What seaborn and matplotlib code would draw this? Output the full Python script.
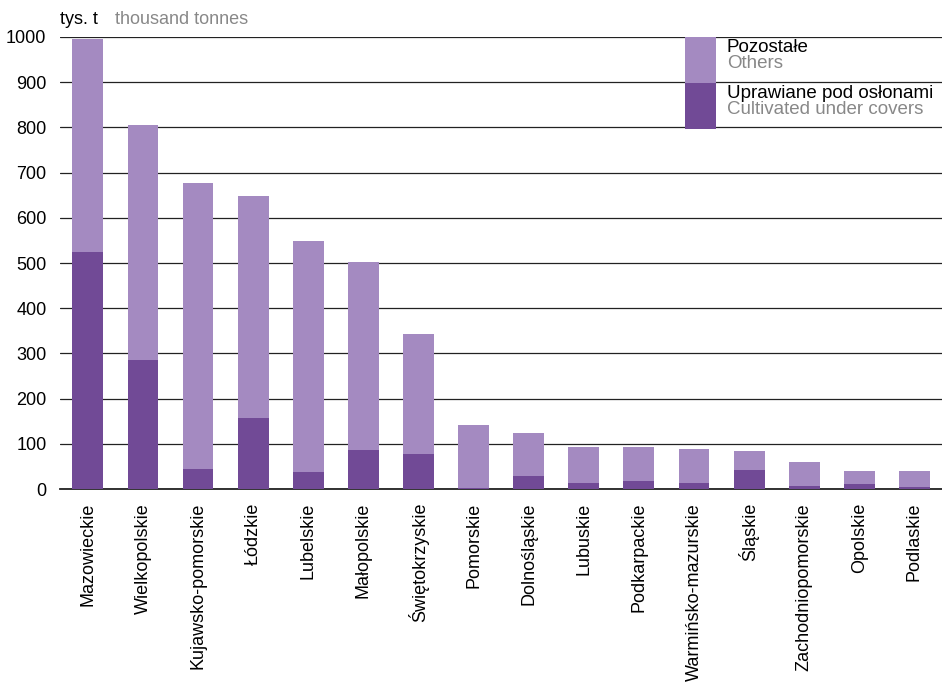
import pandas as pd
import seaborn as sns
import matplotlib.pyplot as plt
from matplotlib.patches import Rectangle

# --- data (thousand tonnes) ---
regions = ['Mazowieckie', 'Wielkopolskie', 'Kujawsko-pomorskie', 'Łódzkie', 'Lubelskie',
           'Małopolskie', 'Świętokrzyskie', 'Pomorskie', 'Dolnośląskie', 'Lubuskie',
           'Podkarpackie', 'Warmińsko-mazurskie', 'Śląskie', 'Zachodniopomorskie',
           'Opolskie', 'Podlaskie']
total = [995, 805, 677, 648, 549, 502, 343, 142, 124, 93, 93, 88, 84, 60, 40, 40]
covered = [524, 285, 44, 157, 38, 86, 77, 2, 29, 13, 18, 13, 42, 7, 11, 4]

df = pd.DataFrame({'region': regions, 'total': total, 'covered': covered})

light = '#A48AC1'
dark = '#714A96'

sns.set_style('white')
plt.rcParams['font.family'] = ['Liberation Sans', 'DejaVu Sans']

fig = plt.figure(figsize=(9.42, 6.85), dpi=100)
ax = fig.add_axes([0.064, 0.286, 0.936, 0.66])

sns.barplot(data=df, x='region', y='total', color=light, width=0.56,
            saturation=1, linewidth=0, ax=ax, zorder=3)
sns.barplot(data=df, x='region', y='covered', color=dark, width=0.56,
            saturation=1, linewidth=0, ax=ax, zorder=4)

ax.set_ylim(0, 1000)
ax.set_xlim(-0.5, len(regions) - 0.5)
ax.set_yticks(range(0, 1001, 100))
ax.yaxis.grid(True, color='#222222', linewidth=0.9, zorder=0)
ax.set_axisbelow(True)
for s in ['top', 'right', 'left']:
    ax.spines[s].set_visible(False)
ax.spines['bottom'].set_color('#222222')
ax.spines['bottom'].set_linewidth(1.3)
ax.set_xlabel('')
ax.set_ylabel('')
ax.tick_params(axis='y', length=0, labelsize=13, colors='black', pad=10)
ax.tick_params(axis='x', length=0, labelsize=13, colors='black', pad=10)
plt.setp(ax.get_xticklabels(), rotation=90, ha='center', va='top')

# unit label
fig.text(0.064, 0.972, 'tys. t', fontsize=13, color='black', va='center')
fig.text(0.122, 0.972, 'thousand tonnes', fontsize=13, color='#888888', va='center')

# legend
for i, (c, pl, en) in enumerate([(light, 'Pozostałe', 'Others'),
                                  (dark, 'Uprawiane pod osłonami', 'Cultivated under covers')]):
    y0 = 1 - (37 + 46 * (i + 1)) / 685
    fig.patches.append(Rectangle((685 / 942, y0), 31 / 942, 46 / 685,
                                 transform=fig.transFigure, color=c, lw=0, zorder=5))
    fig.text(727 / 942, 1 - (47 + 46 * i) / 685, pl, fontsize=13.5, color='black', va='center')
    fig.text(727 / 942, 1 - (64 + 46 * i) / 685, en, fontsize=13.5, color='#888888', va='center')

plt.savefig('out.png', dpi=100)
